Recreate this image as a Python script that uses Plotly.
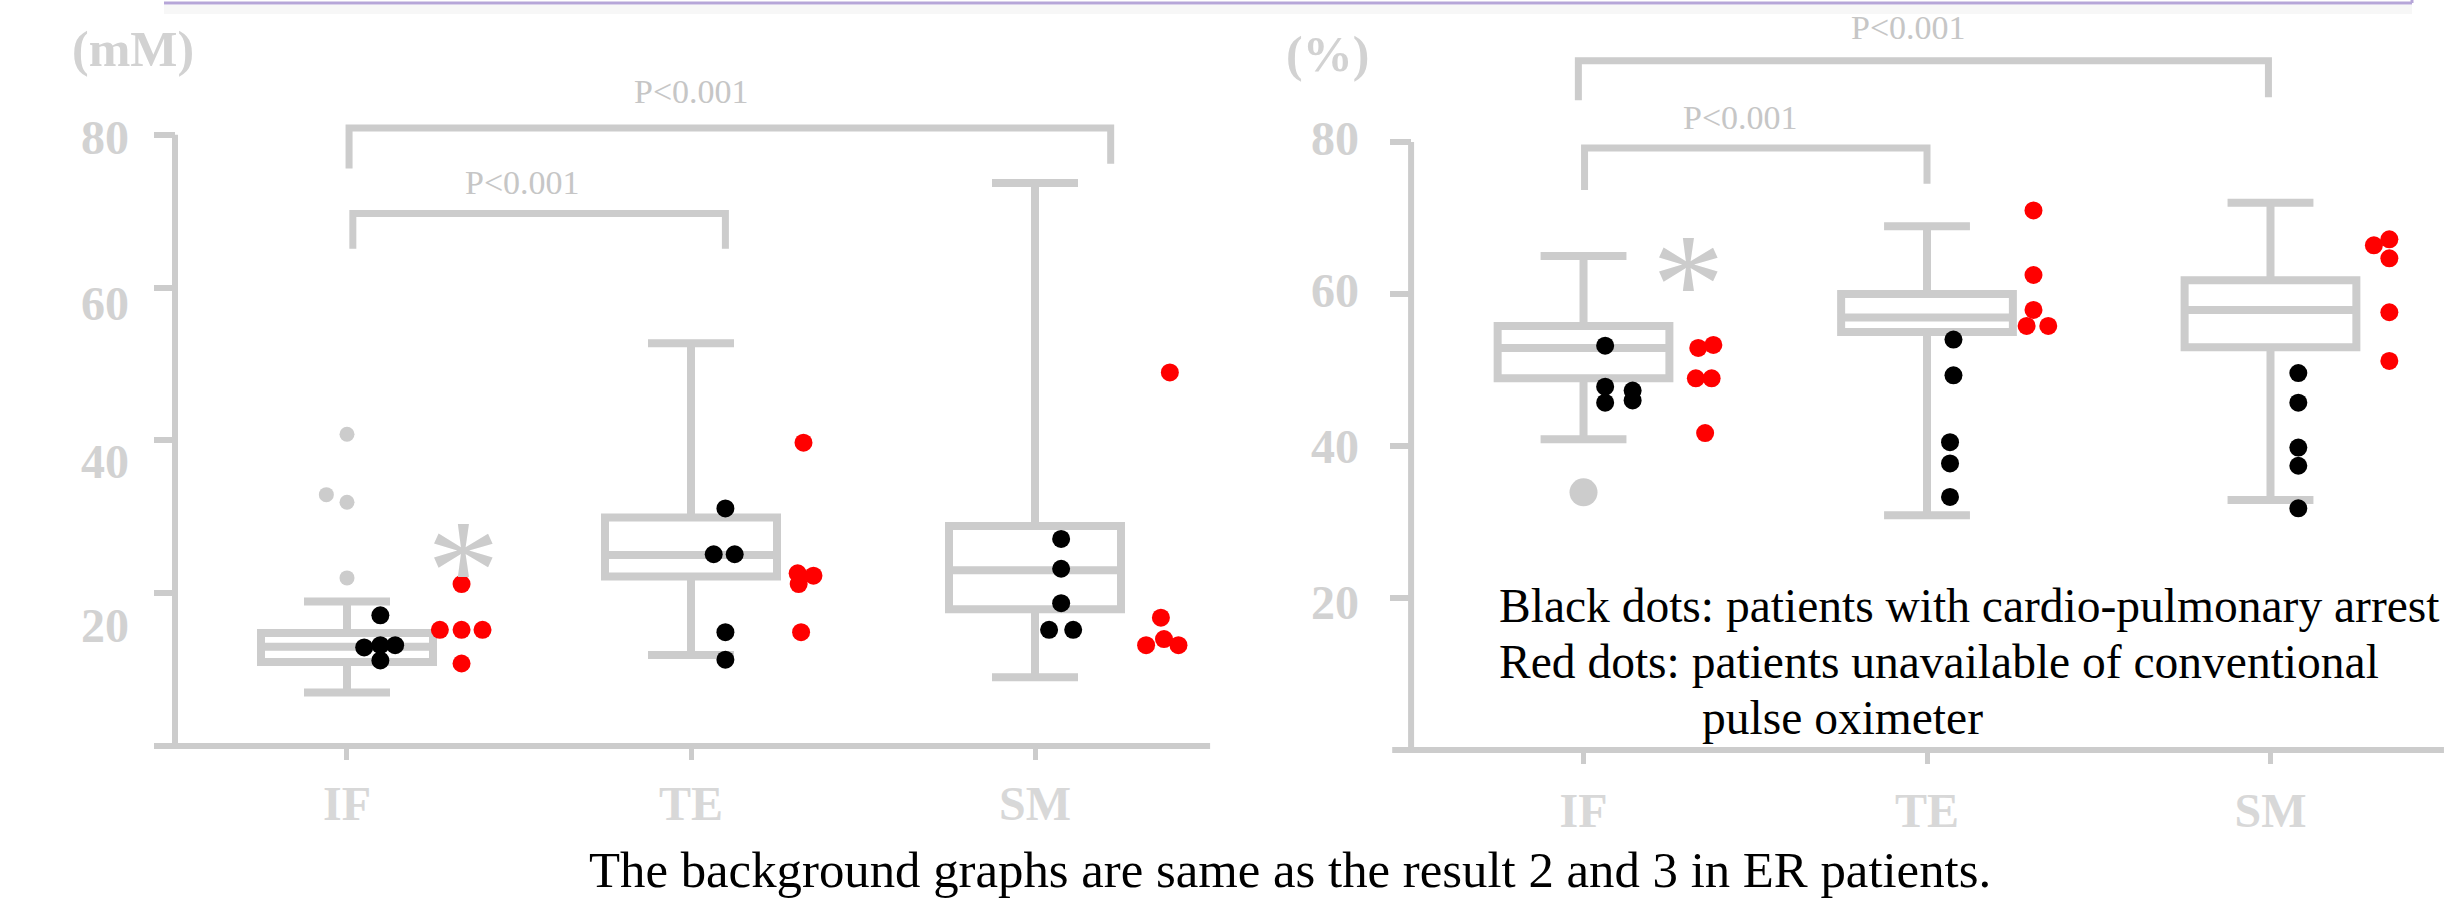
import plotly.graph_objects as go

# ---------------- data ----------------
categories = ["IF", "TE", "SM"]
cat_pos = [0, 1, 2]
y_ticks = [20, 40, 60, 80]
y_tick_labels = ["20", "40", "60", "80"]

# Left panel (mM) – box statistics
mm_q1 = [11.0, 22.2, 17.9]
mm_median = [13.0, 25.0, 23.0]
mm_q3 = [14.8, 29.9, 28.8]
mm_low = [7.0, 11.9, 9.0]
mm_high = [18.9, 52.7, 73.7]
mm_outlier_cat = [0, 0, 0, 0]
mm_outlier_jit = [0.0, -0.06, 0.0, 0.0]
mm_outlier_val = [40.8, 32.9, 31.9, 22.0]

# Left panel dots (category index, jitter offset, value)
mm_black_cat = [0, 0, 0, 0, 0, 1, 1, 1, 1, 1, 2, 2, 2, 2, 2]
mm_black_jit = [0.097, 0.05, 0.097, 0.14, 0.097, 0.10, 0.066, 0.127, 0.10, 0.10, 0.076, 0.076, 0.076, 0.041, 0.111]
mm_black_val = [17.1, 12.9, 13.2, 13.2, 11.2, 31.1, 25.1, 25.1, 14.9, 11.3, 27.1, 23.2, 18.7, 15.2, 15.2]
mm_red_cat = [0, 0, 0, 0, 0, 1, 1, 1, 1, 1, 2, 2, 2, 2, 2]
mm_red_jit = [0.333, 0.27, 0.333, 0.394, 0.333, 0.327, 0.31, 0.356, 0.313, 0.32, 0.392, 0.366, 0.323, 0.375, 0.417]
mm_red_val = [21.2, 15.2, 15.2, 15.2, 10.8, 39.7, 22.6, 22.3, 21.2, 14.9, 48.9, 16.8, 13.2, 14.0, 13.2]

# Right panel (%) – box statistics
pc_q1 = [48.9, 55.0, 53.0]
pc_median = [52.9, 56.9, 57.9]
pc_q3 = [55.8, 60.0, 61.8]
pc_low = [40.9, 30.9, 32.9]
pc_high = [65.0, 68.9, 72.0]
pc_outlier_cat = [0]
pc_outlier_jit = [0.0]
pc_outlier_val = [33.9]

pc_black_cat = [0, 0, 0, 0, 0, 1, 1, 1, 1, 1, 2, 2, 2, 2, 2]
pc_black_jit = [0.063, 0.063, 0.063, 0.143, 0.143, 0.077, 0.077, 0.067, 0.067, 0.067, 0.081, 0.081, 0.081, 0.081, 0.081]
pc_black_val = [53.2, 47.8, 45.7, 47.3, 46.0, 54.0, 49.3, 40.5, 37.7, 33.3, 49.6, 45.7, 39.8, 37.4, 31.8]
pc_red_cat = [0, 0, 0, 0, 0, 1, 1, 1, 1, 1, 2, 2, 2, 2, 2]
pc_red_jit = [0.334, 0.378, 0.327, 0.373, 0.354, 0.31, 0.31, 0.31, 0.29, 0.353, 0.301, 0.346, 0.346, 0.346, 0.346]
pc_red_val = [52.9, 53.3, 48.9, 48.9, 41.7, 71.0, 62.5, 57.9, 55.8, 55.8, 66.4, 67.2, 64.7, 57.6, 51.2]

p_label = "P<0.001"
caption = "The background graphs are same as the result 2 and 3 in ER patients."
legend_lines = ["Black dots: patients with cardio-pulmonary arrest",
                "Red dots: patients unavailable of conventional",
                "pulse oximeter"]

# ---------------- style ----------------
W, H = 2450, 898
GRAY = "#cccccc"
SERIF = "Liberation Serif"
LBL = "#d2d2d2"
left_label_drop = [32, 21, 16, 3]    # px the left tick labels sit below their ticks
right_label_drop = [4, 0, -4, -4]    # same for the right panel

fig = go.Figure()


def add_panel(xa, ya, q1, med, q3, lo, hi, oc, oj, ov, osize, bc, bj, bv, rc, rj, rv):
    fig.add_trace(go.Box(
        x=cat_pos, q1=q1, median=med, q3=q3, lowerfence=lo, upperfence=hi,
        width=0.5, whiskerwidth=0.5, boxpoints=False,
        line=dict(color=GRAY, width=8), fillcolor="rgba(0,0,0,0)",
        xaxis=xa, yaxis=ya, showlegend=False, hoverinfo="skip"))
    fig.add_trace(go.Scatter(
        x=[c + j for c, j in zip(oc, oj)], y=ov, mode="markers",
        marker=dict(color=GRAY, size=osize, line=dict(width=0)),
        xaxis=xa, yaxis=ya, showlegend=False, hoverinfo="skip"))
    fig.add_trace(go.Scatter(
        x=[c + j for c, j in zip(bc, bj)], y=bv, mode="markers",
        marker=dict(color="#000000", size=18, line=dict(width=0)),
        xaxis=xa, yaxis=ya, showlegend=False))
    fig.add_trace(go.Scatter(
        x=[c + j for c, j in zip(rc, rj)], y=rv, mode="markers",
        marker=dict(color="#ff0000", size=18, line=dict(width=0)),
        xaxis=xa, yaxis=ya, showlegend=False))


add_panel("x", "y", mm_q1, mm_median, mm_q3, mm_low, mm_high,
          mm_outlier_cat, mm_outlier_jit, mm_outlier_val, 15,
          mm_black_cat, mm_black_jit, mm_black_val, mm_red_cat, mm_red_jit, mm_red_val)
add_panel("x2", "y2", pc_q1, pc_median, pc_q3, pc_low, pc_high,
          pc_outlier_cat, pc_outlier_jit, pc_outlier_val, 28,
          pc_black_cat, pc_black_jit, pc_black_val, pc_red_cat, pc_red_jit, pc_red_val)

shapes = []


def axis_lines(xr, yr, yx, xline):
    shapes.append(dict(type="line", xref=xr, yref=yr, x0=yx, x1=yx, y0=0, y1=80,
                       line=dict(color=GRAY, width=6)))
    shapes.append(dict(type="line", xref=xr, yref=yr, x0=xline[0], x1=xline[1], y0=0, y1=0,
                       line=dict(color=GRAY, width=6)))


def bracket(xr, yr, xa, xb, ytop, ya, yb):
    shapes.append(dict(type="path", xref=xr, yref=yr,
                       path=f"M {xa},{ya} L {xa},{ytop} L {xb},{ytop} L {xb},{yb}",
                       line=dict(color=GRAY, width=7)))


axis_lines("x", "y", -0.5, (-0.561, 2.509))
axis_lines("x2", "y2", -0.502, (-0.557, 2.505))
bracket("x", "y", 0.017, 1.10, 69.7, 65.1, 65.1)
bracket("x", "y", 0.006, 2.22, 80.9, 75.6, 76.2)
bracket("x2", "y2", 0.003, 1.0, 79.2, 73.7, 74.5)
bracket("x2", "y2", -0.015, 1.994, 90.7, 85.5, 85.9)

# top slide border
shapes.append(dict(type="line", xref="paper", yref="paper", x0=164 / W, x1=2412 / W,
                   y0=1 - 3 / H, y1=1 - 3 / H, line=dict(color="#b6a6d8", width=3)))
shapes.append(dict(type="line", xref="paper", yref="paper", x0=2412 / W, x1=2412 / W,
                   y0=1 - 3 / H, y1=1, line=dict(color="#b6a6d8", width=3)))
shapes.append(dict(type="rect", xref="paper", yref="paper", x0=164 / W, x1=2412 / W,
                   y0=1 - 14 / H, y1=1 - 5 / H, line=dict(width=0), fillcolor="#f7f7f7",
                   layer="below"))

ann = []
pfont = dict(family=SERIF, size=34, color="#c6c6c6")
ann += [
    dict(x=0.509, y=73.7, xref="x", yref="y", text=p_label, showarrow=False, font=pfont),
    dict(x=1.0, y=85.7, xref="x", yref="y", text=p_label, showarrow=False, font=pfont),
    dict(x=0.456, y=83.2, xref="x2", yref="y2", text=p_label, showarrow=False, font=pfont),
    dict(x=0.945, y=95.1, xref="x2", yref="y2", text=p_label, showarrow=False, font=pfont),
]
ufont = dict(family=SERIF, size=50, color=LBL, weight=700)
ann += [
    dict(x=-0.622, y=91.2, xref="x", yref="y", text="(mM)", showarrow=False, font=ufont),
    dict(x=-0.745, y=91.6, xref="x2", yref="y2", text="(%)", showarrow=False, font=ufont),
]
# y tick labels (placed as text next to the ticks, as in the source image)
lfont = dict(family=SERIF, size=48, color=LBL, weight=700)
for v, t, d in zip(y_ticks, y_tick_labels, left_label_drop):
    ann.append(dict(x=-0.628, y=v, xref="x", yref="y", text=t, showarrow=False,
                    xanchor="right", yanchor="middle", yshift=-d, font=lfont))
for v, t, d in zip(y_ticks, y_tick_labels, right_label_drop):
    ann.append(dict(x=-0.648, y=v, xref="x2", yref="y2", text=t, showarrow=False,
                    xanchor="right", yanchor="middle", yshift=-d, font=lfont))

afont = dict(family=SERIF, size=145, color=GRAY)
ann += [
    dict(x=0.339, y=25.3, xref="x", yref="y", text="*", showarrow=False, font=afont,
         yanchor="middle", yshift=-17),
    dict(x=0.307, y=63.5, xref="x2", yref="y2", text="*", showarrow=False, font=afont,
         yanchor="middle", yshift=-17),
]
tfont = dict(family=SERIF, size=47.5, color="#000000")
ann += [
    dict(x=1497 / W, y=1 - 606 / H, xref="paper", yref="paper", text=legend_lines[0],
         showarrow=False, xanchor="left", yanchor="middle", font=tfont),
    dict(x=1497 / W, y=1 - 662 / H, xref="paper", yref="paper", text=legend_lines[1],
         showarrow=False, xanchor="left", yanchor="middle", font=tfont),
    dict(x=1700 / W, y=1 - 718 / H, xref="paper", yref="paper", text=legend_lines[2],
         showarrow=False, xanchor="left", yanchor="middle", font=tfont),
    dict(x=1290 / W, y=1 - 870 / H, xref="paper", yref="paper", text=caption,
         showarrow=False, xanchor="center", yanchor="middle",
         font=dict(family=SERIF, size=50.8, color="#000000")),
]

xcommon = dict(tickvals=cat_pos, ticktext=categories, ticks="outside", ticklen=13,
               tickwidth=5, tickcolor=GRAY, showline=False, showgrid=False, zeroline=False,
               tickfont=dict(family=SERIF, size=48, color="#d8d8d8", weight=700),
               anchor="free")
ycommon = dict(tickvals=y_ticks, ticktext=y_tick_labels, ticks="outside", ticklen=21,
               tickwidth=6, tickcolor=GRAY, showline=False, showgrid=False, zeroline=False,
               showticklabels=False, anchor="free")

fig.update_layout(
    width=W, height=H, autosize=False,
    margin=dict(l=0, r=0, t=0, b=0, pad=0),
    paper_bgcolor="white", plot_bgcolor="white",
    showlegend=False,
    xaxis=dict(domain=[0, 1250 / W], range=[-1.0087, 2.625], position=152 / H,
               ticklabelstandoff=2, **xcommon),
    yaxis=dict(domain=[0, 1], range=[-19.895, 97.644], position=175 / W, **ycommon),
    xaxis2=dict(domain=[1250 / W, 1], range=[-0.971, 2.5226], position=148 / H,
                ticklabelstandoff=5, **xcommon),
    yaxis2=dict(domain=[0, 1], range=[-19.474, 98.684], position=1411 / W, **ycommon),
    shapes=shapes, annotations=ann,
)

fig.write_html("out.html", config={"displayModeBar": False},
               post_script="document.body.style.margin='0';document.body.style.overflow='hidden';")
